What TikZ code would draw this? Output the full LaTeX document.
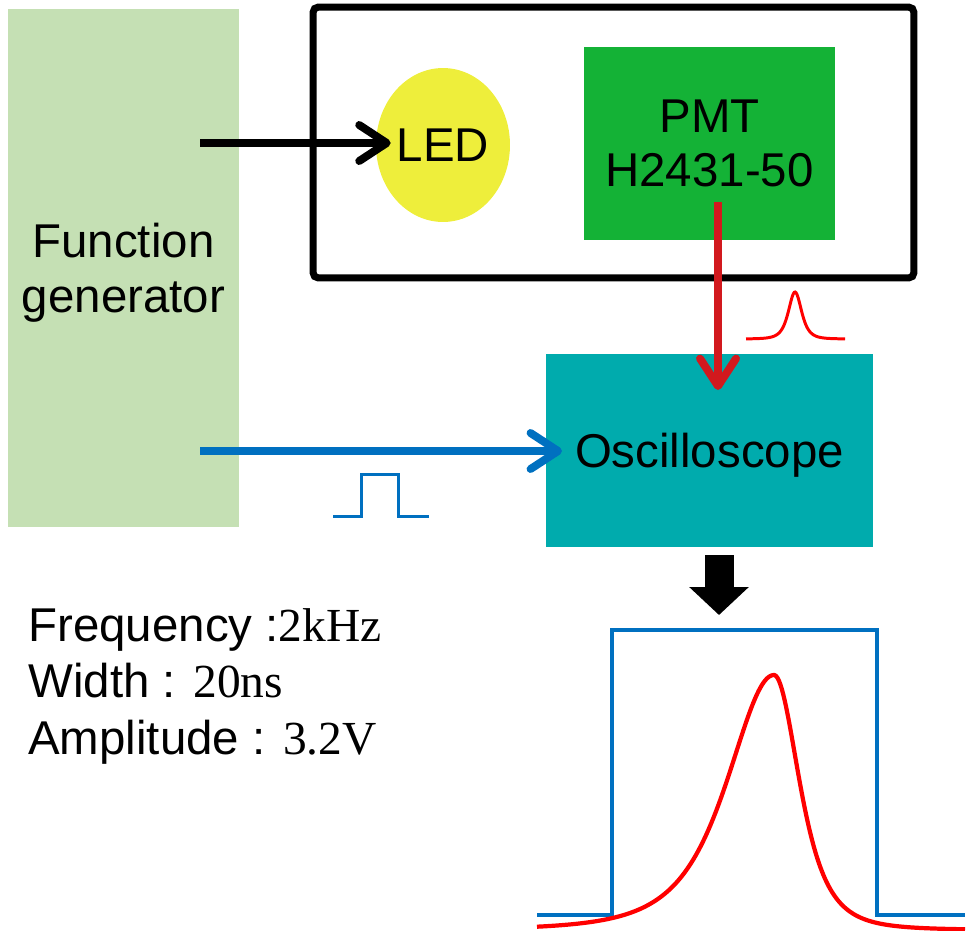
\documentclass[tikz,border=0pt]{standalone}
\usepackage{fontspec}
\setsansfont{Liberation Sans}
\setmainfont{Liberation Serif}
\usetikzlibrary{arrows.meta, shapes.geometric}
\definecolor{fggreen}{HTML}{C5E0B4}
\definecolor{ledyellow}{HTML}{EEEE3B}
\definecolor{pmtgreen}{HTML}{14B236}
\definecolor{oscteal}{HTML}{00ABAD}
\definecolor{sigred}{HTML}{D2191E}
\definecolor{sigblue}{HTML}{0070C0}
\tikzset{
  every node/.style={font=\sffamily\fontsize{27}{31}\selectfont},
  block/.style={rectangle, inner sep=0pt, align=center},
  link/.style={line width=4.5pt,
    -{Straight Barb[length=0.55cm, width=0.72cm, round]}},
  pulse/.style={sigblue, line width=1.7pt},
  peak/.style={red, line width=1.7pt}
}
\begin{document}
\begin{tikzpicture}[x=0.02cm, y=-0.02cm]
  \useasboundingbox (0,0) rectangle (969,930);

  \node[block, fill=fggreen, text depth=0pt, minimum width=4.62cm, minimum height=10.36cm] (fg) at (123.5,268) {Function\\generator};
  \node[block, draw, line width=4pt, rounded corners=3pt, minimum width=12.02cm, minimum height=5.42cm] (box) at (613.5,142.5) {};
  \node[ellipse, fill=ledyellow, inner sep=0pt, minimum width=2.68cm, minimum height=3.08cm] (led) at (443,145) {LED};
  \node[block, fill=pmtgreen, minimum width=5.02cm, minimum height=3.86cm] (pmt) at (709.5,143.5) {PMT\\H2431-50};
  \node[block, fill=oscteal, text depth=0pt, minimum width=6.54cm, minimum height=3.86cm] (osc) at (709.5,450.5) {Oscilloscope};

  \coordinate (fgtop) at (200,143);
  \coordinate (fgbot) at (200,451);
  \coordinate (pmtout) at (718,202);
  \coordinate (oscin) at (718,390);
  \coordinate (oscleft) at (562,451);

  \draw[link, black] (fgtop) -- ([xshift=0.3cm]led.west |- fgtop);
  \draw[link, sigred] (pmtout) -- (oscin);
  \draw[link, sigblue] (fgbot) -- (oscleft);

  % small signals
  \draw[pulse] (333,516) -- (361,516) -- (361,474) -- (398,474) -- (398,516) -- (429,516);
  \draw[peak] plot[domain=746:845, samples=120] (\x, {339-47/(1+((\x-795)/12)^2)^2});

  % result on the scope
  \coordinate (oscout) at (719,555);
  \coordinate (scopetop) at (719,615);
  \draw[line width=0.58cm, -{Triangle[length=0.56cm, width=1.16cm]}] (oscout) -- (scopetop);
  \draw[sigblue, line width=2.4pt] (537,915) -- (612,915) -- (612,630) -- (877,630) -- (877,915) -- (965,915);
  \draw[red, line width=2.4pt] plot[domain=537:965, samples=300]
    (\x, {930-255/(1+((\x-774)/(\x<774 ? 85 : 46))^2)^2});

  \node[anchor=base west, inner sep=0pt] (freq) at (28,641) {Frequency :{\rmfamily 2kHz}};
  \node[anchor=base west, inner sep=0pt] (wid) at (28,697) {Width : {\rmfamily 20ns}};
  \node[anchor=base west, inner sep=0pt] (amp) at (28,754) {Amplitude : {\rmfamily 3.2V}};
\end{tikzpicture}
\end{document}
